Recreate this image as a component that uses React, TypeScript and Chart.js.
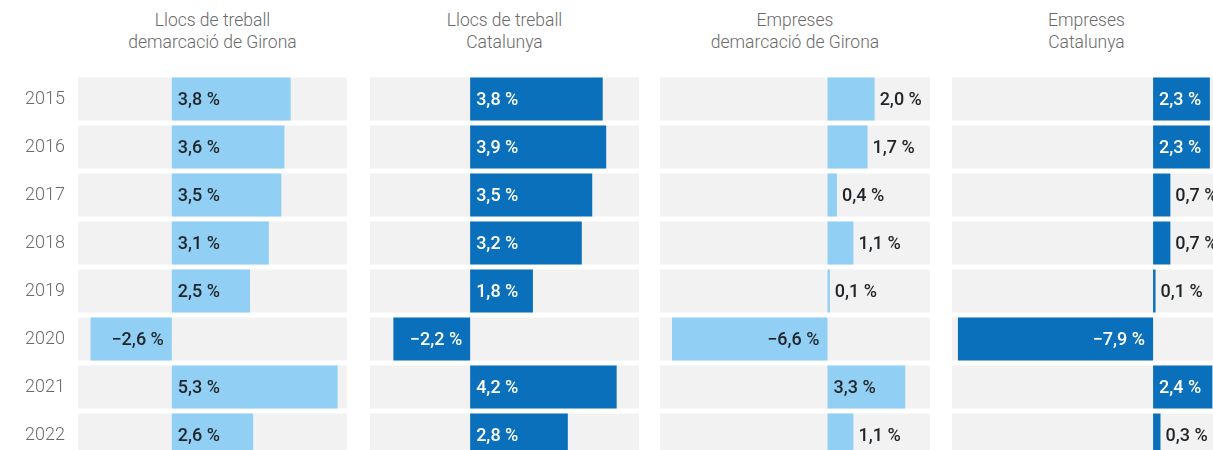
import React, { useEffect, useRef } from 'react';
import { Chart, registerables } from 'chart.js';

Chart.register(...registerables);

const years = ['2015', '2016', '2017', '2018', '2019', '2020', '2021', '2022'];
const llocsGirona = [3.8, 3.6, 3.5, 3.1, 2.5, -2.6, 5.3, 2.6];
const llocsCatalunya = [3.8, 3.9, 3.5, 3.2, 1.8, -2.2, 4.2, 2.8];
const empresesGirona = [2.0, 1.7, 0.4, 1.1, 0.1, -6.6, 3.3, 1.1];
const empresesCatalunya = [2.3, 2.3, 0.7, 0.7, 0.1, -7.9, 2.4, 0.3];

const titleGirona = ['Llocs de treball', 'demarcació de Girona'];
const titleCat = ['Llocs de treball', 'Catalunya'];
const titleEmpGirona = ['Empreses', 'demarcació de Girona'];
const titleEmpCat = ['Empreses', 'Catalunya'];

const LIGHT = '#91d0f4';
const DARK = '#0b70bc';
const GREY = '#f2f2f2';
const TEXT_DARK = '#1f2428';

const fmt = (v: number) => {
  const s = Math.abs(v).toFixed(1).replace('.', ',');
  return (v < 0 ? '\u2212' : '') + s + ' %';
};

type PanelProps = {
  values: number[];
  color: string;
  insideText: string;
  min: number;
  max: number;
  left: number;
  width: number;
  showYears: boolean;
  title: string[];
};

const AREA_TOP = 75;
const ROW = 48;
const CANVAS_H = AREA_TOP + ROW * years.length;
const YAXIS_W = 78;

function Panel(p: PanelProps) {
  const ref = useRef<HTMLCanvasElement | null>(null);
  const canvasLeft = p.showYears ? p.left - YAXIS_W : p.left;
  const canvasW = p.showYears ? p.width + YAXIS_W : p.width;

  useEffect(() => {
    if (!ref.current) return;
    const labelPlugin = {
      id: 'valueLabels',
      afterDatasetsDraw(chart: any) {
        const meta = chart.getDatasetMeta(0);
        const ctx = chart.ctx;
        const x0 = chart.scales.x.getPixelForValue(0);
        ctx.save();
        ctx.font = '500 18px Roboto';
        ctx.textBaseline = 'middle';
        meta.data.forEach((bar: any, i: number) => {
          const v = p.values[i];
          const text = fmt(v);
          const w = ctx.measureText(text).width;
          const barW = Math.abs(bar.x - x0);
          const inside = barW >= w + 10;
          const y = bar.y + 1;
          if (v >= 0) {
            ctx.textAlign = 'left';
            if (inside) {
              ctx.fillStyle = p.insideText;
              ctx.fillText(text, x0 + 6, y);
            } else {
              ctx.fillStyle = TEXT_DARK;
              ctx.fillText(text, bar.x + 5, y);
            }
          } else {
            ctx.textAlign = 'right';
            if (inside) {
              ctx.fillStyle = p.insideText;
              ctx.fillText(text, x0 - 8, y);
            } else {
              ctx.fillStyle = TEXT_DARK;
              ctx.fillText(text, bar.x - 5, y);
            }
          }
        });
        ctx.restore();
      },
    };

    const chart = new Chart(ref.current, {
      type: 'bar',
      data: {
        labels: years,
        datasets: [
          {
            data: p.values,
            backgroundColor: p.color,
            grouped: false,
            order: 0,
            categoryPercentage: 1,
            barPercentage: 0.895,
          } as any,
          {
            data: years.map(() => [p.min, p.max]),
            backgroundColor: GREY,
            grouped: false,
            order: 1,
            categoryPercentage: 1,
            barPercentage: 0.895,
          } as any,
        ],
      },
      options: {
        indexAxis: 'y',
        animation: false,
        responsive: false,
        events: [],
        layout: { padding: { top: AREA_TOP, bottom: 0, left: 0, right: 0 } },
        plugins: {
          legend: { display: false },
          tooltip: { enabled: false },
          title: { display: false },
        },
        scales: {
          x: {
            display: false,
            min: p.min,
            max: p.max,
          },
          y: {
            display: p.showYears,
            grid: { display: false, drawTicks: false },
            border: { display: false },
            ticks: {
              padding: 13,
              color: '#6a6a6a',
              font: { family: 'Roboto', size: 18, weight: 300 as any },
            },
            afterFit: (scale: any) => {
              if (p.showYears) {
                scale.width = YAXIS_W;
                scale.paddingTop = 0;
                scale.paddingBottom = 0;
              }
            },
          },
        },
      },
      plugins: [labelPlugin],
    });
    let alive = true;
    if ((document as any).fonts && (document as any).fonts.ready) {
      (document as any).fonts.ready.then(() => {
        if (alive) chart.update('none');
      });
    }
    return () => {
      alive = false;
      chart.destroy();
    };
  }, []);

  return (
    <>
      <div
        style={{
          position: 'absolute',
          left: p.left,
          width: p.width,
          top: 9,
          textAlign: 'center',
          fontFamily: 'Roboto',
          fontWeight: 300,
          fontSize: 17.5,
          lineHeight: '22px',
          color: '#6a6a6a',
          whiteSpace: 'nowrap',
        }}
      >
        {p.title.map((t, i) => (
          <div key={i}>{t}</div>
        ))}
      </div>
      <canvas
        ref={ref}
        width={canvasW}
        height={CANVAS_H}
        style={{ position: 'absolute', left: canvasLeft, top: 0, width: canvasW, height: CANVAS_H }}
      />
    </>
  );
}

export default function App() {
  return (
    <div
      style={{
        position: 'fixed',
        left: 0,
        top: 0,
        width: 1213,
        height: 450,
        overflow: 'hidden',
        background: '#ffffff',
      }}
    >
      <Panel values={llocsGirona} color={LIGHT} insideText={TEXT_DARK} min={-3} max={5.6} left={78} width={269} showYears={true} title={titleGirona} />
      <Panel values={llocsCatalunya} color={DARK} insideText="#ffffff" min={-2.87} max={4.84} left={370} width={269} showYears={false} title={titleCat} />
      <Panel values={empresesGirona} color={LIGHT} insideText={TEXT_DARK} min={-7.11} max={4.35} left={660} width={270} showYears={false} title={titleEmpGirona} />
      <Panel values={empresesCatalunya} color={DARK} insideText="#ffffff" min={-8.14} max={2.75} left={952} width={269} showYears={false} title={titleEmpCat} />
    </div>
  );
}
